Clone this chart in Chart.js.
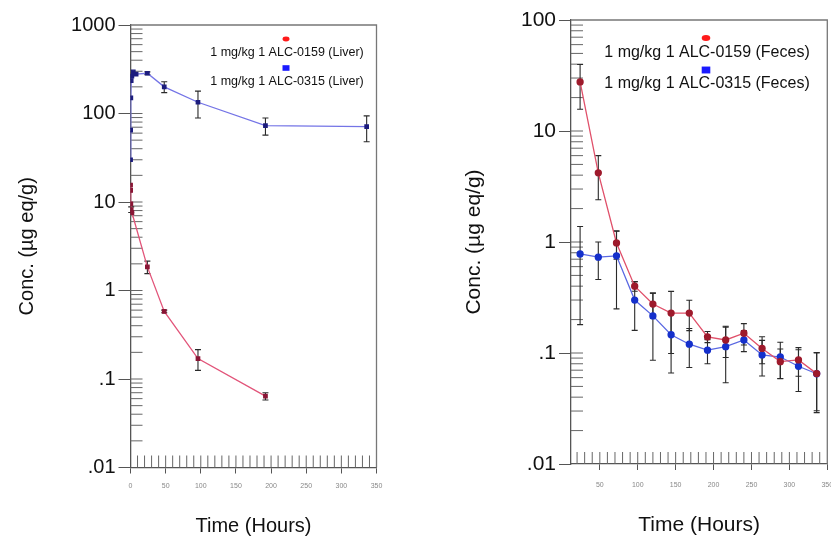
<!DOCTYPE html>
<html>
<head>
<meta charset="utf-8">
<script src="https://cdn.jsdelivr.net/npm/chart.js@4.4.1/dist/chart.umd.min.js"></script>
<style>
  body { margin: 0; background: #fff; }
  #wrap { position: relative; width: 831px; height: 536px; overflow: hidden; }
  .panel { position: absolute; top: 0; }
</style>
</head>
<body>
<div id="wrap">
  <div class="panel" style="left:0px"><canvas id="liverChart" width="420" height="536"></canvas></div>
  <div class="panel" style="left:420px"><canvas id="fecesChart" width="411" height="536"></canvas></div>
</div>
<script>
// ---- liver panel data ----
const liverHours0159 = [0.083, 0.25, 0.5, 1, 2, 24, 48, 96, 192]
const liverConc0159 = [15.5, 13.5, 9.5, 8.2, 7.6, 1.85, 0.58, 0.17, 0.064]
const liverSd0159 = [0, 0, 0, 0.6, 0, 0.3, 0.02, 0.045, 0.006]

const liverHours0315 = [0.083, 0.25, 0.5, 1, 2, 4, 8, 24, 48, 96, 192, 336]
const liverConc0315 = [30, 65, 150, 235, 265, 295, 278, 285, 200, 134, 73, 71]
const liverSd0315 = [0, 0, 0, 0, 0, 0, 0, 10, 28, 45, 16, 23]

// ---- feces panel data ----
const fecesHours = [24, 48, 72, 96, 120, 144, 168, 192, 216, 240, 264, 288, 312, 336]
const fecesConc0159 = [27.7, 4.2, 0.98, 0.40, 0.276, 0.229, 0.229, 0.14, 0.131, 0.151, 0.110, 0.0836, 0.0867, 0.0652]
const fecesSd0159 = [12, 1.8, 0.28, 0.04, 0.07, 0.13, 0.07, 0.016, 0.04, 0.033, 0.03, 0.025, 0.025, 0.035]
const fecesConc0315 = [0.78, 0.73, 0.75, 0.30, 0.216, 0.146, 0.12, 0.106, 0.114, 0.131, 0.096, 0.092, 0.076, 0.065]
const fecesSd0315 = [0.6, 0.27, 0.5, 0.14, 0.13, 0.08, 0.046, 0.026, 0.06, 0.028, 0.034, 0.033, 0.031, 0.036]

// ---- ticks / labels ----
const liverYTicks = [0.01, 0.1, 1, 10, 100, 1000]
const liverYLabels = ['.01', '.1', '1', '10', '100', '1000']
const fecesYTicks = [0.01, 0.1, 1, 10, 100]
const fecesYLabels = ['.01', '.1', '1', '10', '100']
const liverXTicks = [0, 50, 100, 150, 200, 250, 300, 350]
const fecesXTicks = [50, 100, 150, 200, 250, 300, 350]

const liverLegend = ['1 mg/kg 1 ALC-0159 (Liver)', '1 mg/kg 1 ALC-0315 (Liver)']
const fecesLegend = ['1 mg/kg 1 ALC-0159 (Feces)', '1 mg/kg 1 ALC-0315 (Feces)']

const FONT = 'Liberation Sans, Arial, Helvetica, sans-serif'
const AXIS = '#555'


const toPoints = (xs, ys) => xs.map((x, i) => ({ x: x, y: ys[i] }))


// error bars, inside ticks, frame and the stacked legend
const extrasPlugin = {
    id: 'extras',
    beforeDatasetsDraw(chart, args, opts) {
        const { ctx, chartArea } = chart
        const xs = chart.scales.x
        const ys = chart.scales.y

        ctx.save()
        ctx.strokeStyle = '#666'
        ctx.lineWidth = 1

        // minor x ticks every 10 h, drawn up from the axis
        for (let h = Math.ceil(xs.min / 10) * 10; h < xs.max; h += 10) {
            const px = xs.getPixelForValue(h)
            if (px <= chartArea.left + 1) continue
            ctx.beginPath()
            ctx.moveTo(px, chartArea.bottom)
            ctx.lineTo(px, chartArea.bottom - opts.tickLen)
            ctx.stroke()
        }

        // y ticks 1..9 per decade, drawn right from the axis
        for (let d = Math.log10(ys.min); d < Math.log10(ys.max); d++) {
            for (let m = 1; m <= 9; m++) {
                const v = m * Math.pow(10, d)
                const py = ys.getPixelForValue(v)
                if (m === 1 && d === Math.log10(ys.min)) continue
                ctx.beginPath()
                ctx.moveTo(chartArea.left, py)
                ctx.lineTo(chartArea.left + opts.tickLen, py)
                ctx.stroke()
            }
        }

        // frame top + right
        ctx.strokeStyle = '#777'
        ctx.lineWidth = 1.3
        ctx.beginPath()
        ctx.moveTo(chartArea.left, chartArea.top)
        ctx.lineTo(chartArea.right, chartArea.top)
        ctx.lineTo(chartArea.right, chartArea.bottom)
        ctx.stroke()

        // error bars
        ctx.strokeStyle = '#2a2a2a'
        ctx.lineWidth = 1.1
        chart.data.datasets.forEach((ds) => {
            ds.data.forEach((p, i) => {
                const e = ds.errors[i]
                if (!e) return
                const px = xs.getPixelForValue(p.x)
                const lo = Math.max(p.y - e, ys.min)
                const yTop = ys.getPixelForValue(p.y + e)
                const yBot = ys.getPixelForValue(lo)
                ctx.beginPath()
                ctx.moveTo(px, yTop)
                ctx.lineTo(px, yBot)
                ctx.moveTo(px - 3, yTop)
                ctx.lineTo(px + 3, yTop)
                ctx.moveTo(px - 3, yBot)
                ctx.lineTo(px + 3, yBot)
                ctx.stroke()
            })
        })
        ctx.restore()
    },
    afterDraw(chart, args, opts) {
        const { ctx } = chart
        const lg = opts.legend
        ctx.save()
        ctx.fillStyle = '#ff1a1a'
        ctx.beginPath()
        ctx.ellipse(lg.x, lg.y[0], lg.mark, lg.mark * 0.7, 0, 0, Math.PI * 2)
        ctx.fill()
        ctx.fillStyle = '#1a1aff'
        ctx.fillRect(lg.x - lg.mark, lg.y[2] - lg.mark * 0.8, lg.mark * 2, lg.mark * 1.6)

        ctx.fillStyle = '#111'
        ctx.font = lg.size + 'px ' + FONT
        ctx.textAlign = 'center'
        ctx.textBaseline = 'middle'
        ctx.fillText(lg.text[0], lg.x + 1, lg.y[1])
        ctx.fillText(lg.text[1], lg.x + 1, lg.y[3])
        ctx.restore()
    }
}


const makeChart = (id, cfg) => {
    const ctx = document.getElementById(id).getContext('2d')

    return new Chart(ctx, {
        type: 'line',
        data: {
            datasets: [
                {
                    data: cfg.red,
                    errors: cfg.redErr,
                    borderColor: cfg.redLine,
                    backgroundColor: cfg.redDot,
                    pointBorderColor: cfg.redDot,
                    pointStyle: cfg.dotStyle,
                    pointRadius: cfg.dotSize,
                    borderWidth: 1.3,
                    tension: 0
                },
                {
                    data: cfg.blue,
                    errors: cfg.blueErr,
                    borderColor: cfg.blueLine,
                    backgroundColor: cfg.blueDot,
                    pointBorderColor: cfg.blueDot,
                    pointStyle: cfg.dotStyle,
                    pointRadius: cfg.dotSize,
                    borderWidth: 1.3,
                    tension: 0
                }
            ]
        },
        options: {
            responsive: false,
            animation: false,
            layout: {
                autoPadding: false,
                padding: cfg.padding
            },
            plugins: {
                legend: { display: false },
                tooltip: { enabled: false },
                extras: { tickLen: 12, legend: cfg.legend }
            },
            scales: {
                x: {
                    type: 'linear',
                    min: cfg.xMin,
                    max: 350,
                    afterBuildTicks: (s) => { s.ticks = cfg.xTicks.map(v => ({ value: v })) },
                    afterFit: (s) => {
                        s.height = cfg.xHeight
                        s.paddingLeft = 0
                        s.paddingRight = 0
                    },
                    border: { display: true, color: AXIS, width: 1.3 },
                    grid: { drawOnChartArea: false, tickLength: 6, color: AXIS },
                    ticks: { color: '#888', font: { family: FONT, size: 7 }, padding: cfg.xPad, maxRotation: 0 },
                    title: {
                        display: true,
                        text: 'Time (Hours)',
                        color: '#111',
                        padding: 0,
                        font: { family: FONT, size: cfg.titleSize, lineHeight: 1 }
                    }
                },
                y: {
                    type: 'logarithmic',
                    min: cfg.yTicks[0],
                    max: cfg.yTicks[cfg.yTicks.length - 1],
                    afterBuildTicks: (s) => { s.ticks = cfg.yTicks.map(v => ({ value: v })) },
                    afterFit: (s) => {
                        s.width = cfg.yWidth
                        s.paddingTop = 0
                        s.paddingBottom = 0
                    },
                    border: { display: true, color: AXIS, width: 1.3 },
                    grid: { drawOnChartArea: false, tickLength: 12, color: AXIS },
                    ticks: {
                        color: '#111',
                        padding: 3,
                        font: { family: FONT, size: cfg.tickSize },
                        callback: (v, i) => cfg.yLabels[i]
                    },
                    title: {
                        display: true,
                        text: 'Conc. (µg eq/g)',
                        color: '#111',
                        padding: { top: cfg.yTitlePad, bottom: 0 },
                        font: { family: FONT, size: cfg.titleSize, lineHeight: 1 }
                    }
                }
            }
        },
        plugins: [extrasPlugin]
    })
}


makeChart('liverChart', {
    red: toPoints(liverHours0159, liverConc0159),
    redErr: liverSd0159,
    blue: toPoints(liverHours0315, liverConc0315),
    blueErr: liverSd0315,
    redLine: '#e2557a', redDot: '#8a1535',
    blueLine: '#7474e6', blueDot: '#1c1c7e',
    dotStyle: 'rect', dotSize: 2.4,
    xMin: 0, xTicks: liverXTicks, xHeight: 68.5, xPad: 8,
    yTicks: liverYTicks, yLabels: liverYLabels, yWidth: 120.5, yTitlePad: 7,
    padding: { left: 10, top: 25, right: 43.5, bottom: 0 },
    tickSize: 20, titleSize: 20,
    legend: { x: 286, y: [39, 53, 68, 81.5], mark: 3.5, size: 12.5, text: liverLegend }
})

makeChart('fecesChart', {
    red: toPoints(fecesHours, fecesConc0159),
    redErr: fecesSd0159,
    blue: toPoints(fecesHours, fecesConc0315),
    blueErr: fecesSd0315,
    redLine: '#e0506a', redDot: '#9e1a2c',
    blueLine: '#5a68e2', blueDot: '#1530cc',
    dotStyle: 'circle', dotSize: 3,
    xMin: 12, xTicks: fecesXTicks, xHeight: 72, xPad: 11,
    yTicks: fecesYTicks, yLabels: fecesYLabels, yWidth: 121, yTitlePad: 14,
    padding: { left: 30, top: 20, right: 3.7, bottom: 0 },
    tickSize: 21, titleSize: 21,
    legend: { x: 286, y: [38, 53, 70, 84], mark: 4.3, size: 16, text: fecesLegend }
})
</script>
</body>
</html>
